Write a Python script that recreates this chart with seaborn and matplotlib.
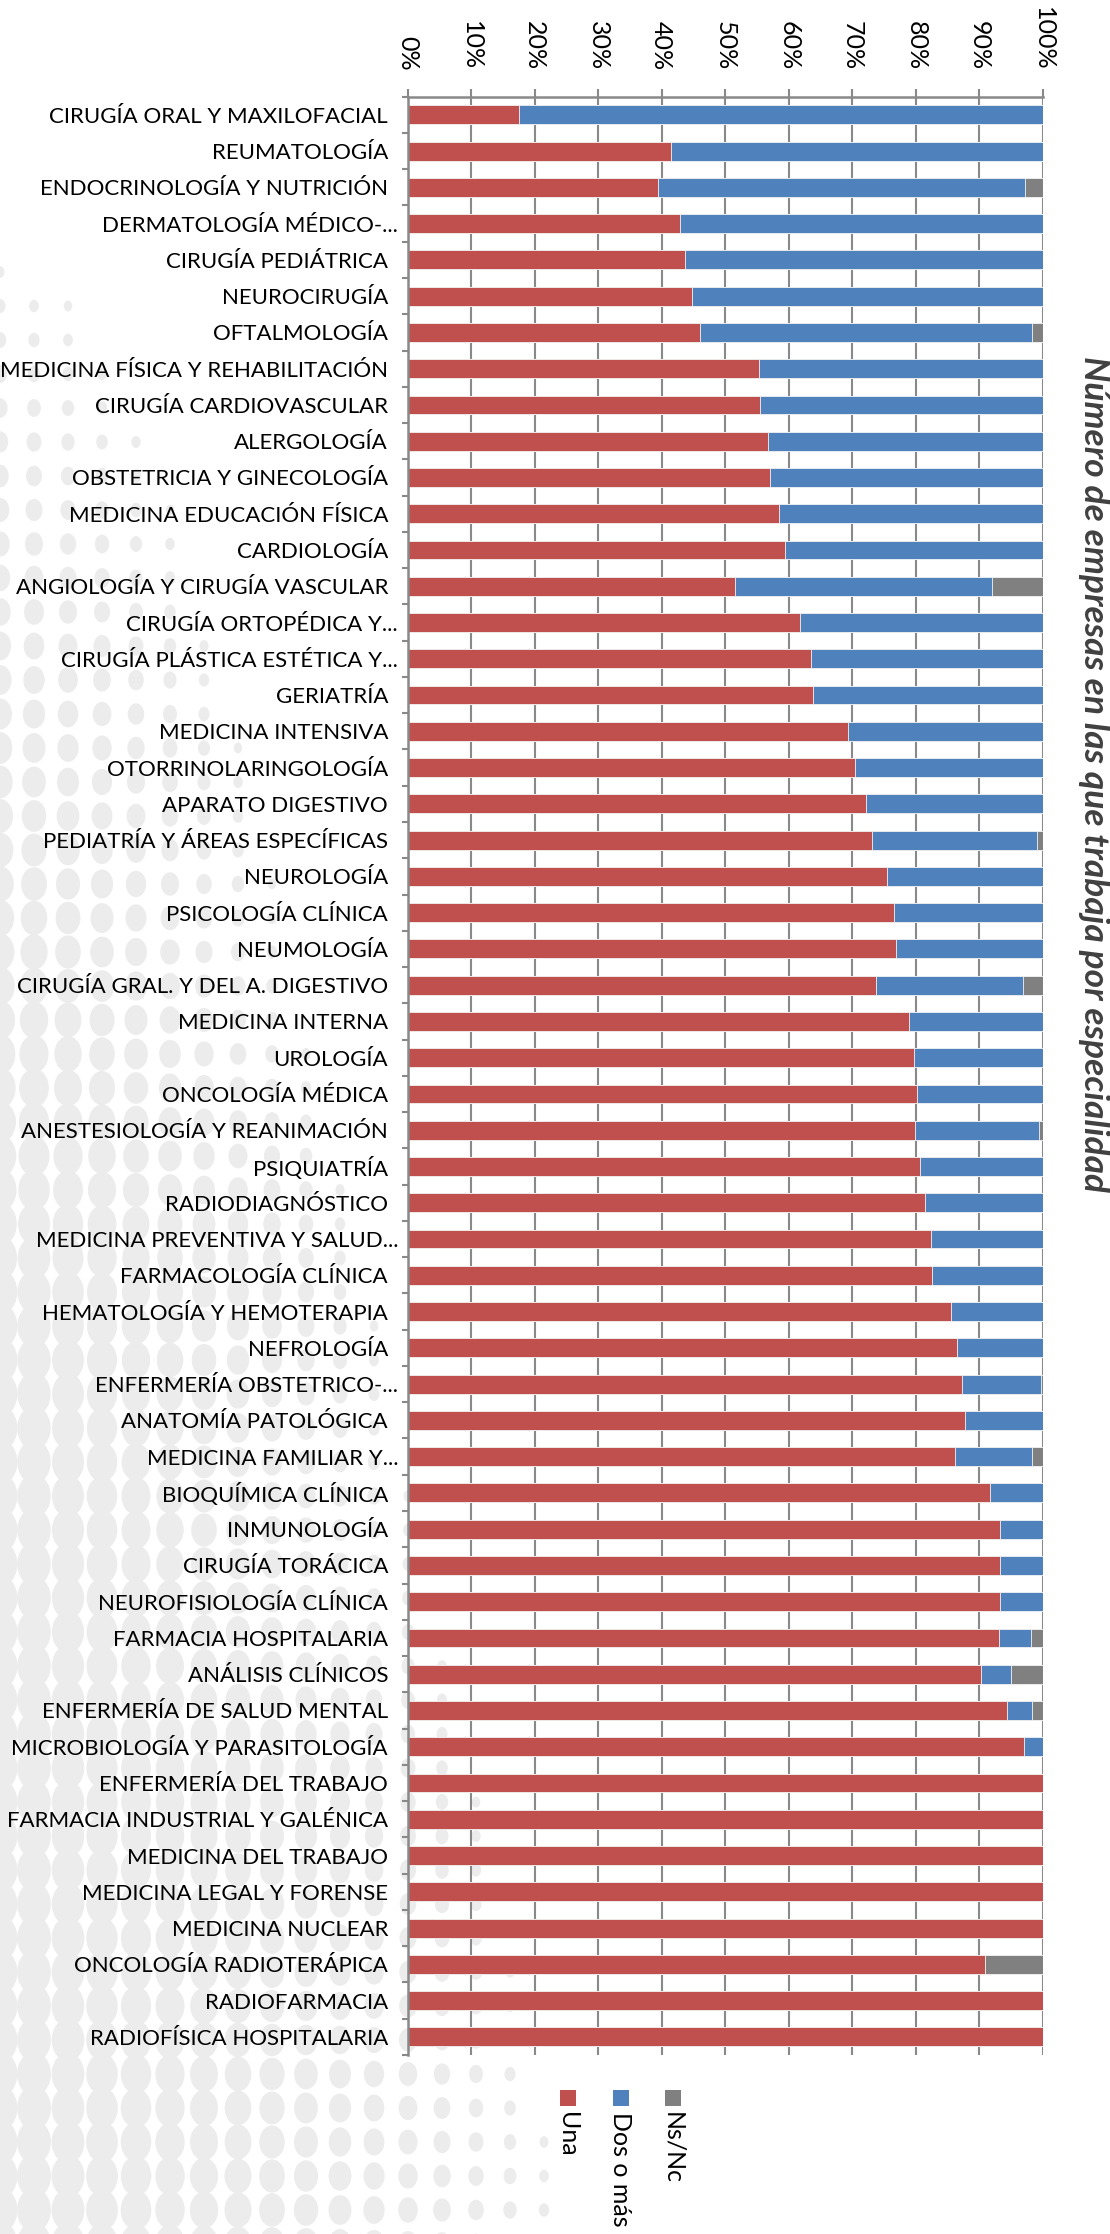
import numpy as np
import pandas as pd
import matplotlib
matplotlib.use("Agg")
import matplotlib.pyplot as plt
import matplotlib.transforms as mtransforms
from matplotlib.collections import EllipseCollection
from matplotlib.patches import Rectangle
import seaborn as sns

# Specialties, top to bottom
especialidades = [
    "CIRUGÍA ORAL Y MAXILOFACIAL", "REUMATOLOGÍA", "ENDOCRINOLOGÍA Y NUTRICIÓN",
    "DERMATOLOGÍA MÉDICO-...", "CIRUGÍA PEDIÁTRICA", "NEUROCIRUGÍA", "OFTALMOLOGÍA",
    "MEDICINA FÍSICA Y REHABILITACIÓN", "CIRUGÍA CARDIOVASCULAR", "ALERGOLOGÍA",
    "OBSTETRICIA Y GINECOLOGÍA", "MEDICINA EDUCACIÓN FÍSICA", "CARDIOLOGÍA",
    "ANGIOLOGÍA Y CIRUGÍA VASCULAR", "CIRUGÍA ORTOPÉDICA Y...",
    "CIRUGÍA PLÁSTICA ESTÉTICA Y...", "GERIATRÍA", "MEDICINA INTENSIVA",
    "OTORRINOLARINGOLOGÍA", "APARATO DIGESTIVO", "PEDIATRÍA Y ÁREAS ESPECÍFICAS",
    "NEUROLOGÍA", "PSICOLOGÍA CLÍNICA", "NEUMOLOGÍA", "CIRUGÍA GRAL. Y DEL A. DIGESTIVO",
    "MEDICINA INTERNA", "UROLOGÍA", "ONCOLOGÍA MÉDICA", "ANESTESIOLOGÍA Y REANIMACIÓN",
    "PSIQUIATRÍA", "RADIODIAGNÓSTICO", "MEDICINA PREVENTIVA Y SALUD...",
    "FARMACOLOGÍA CLÍNICA", "HEMATOLOGÍA Y HEMOTERAPIA", "NEFROLOGÍA",
    "ENFERMERÍA OBSTETRICO-...", "ANATOMÍA PATOLÓGICA", "MEDICINA FAMILIAR Y...",
    "BIOQUÍMICA CLÍNICA", "INMUNOLOGÍA", "CIRUGÍA TORÁCICA", "NEUROFISIOLOGÍA CLÍNICA",
    "FARMACIA HOSPITALARIA", "ANÁLISIS CLÍNICOS", "ENFERMERÍA DE SALUD MENTAL",
    "MICROBIOLOGÍA Y PARASITOLOGÍA", "ENFERMERÍA DEL TRABAJO",
    "FARMACIA INDUSTRIAL Y GALÉNICA", "MEDICINA DEL TRABAJO", "MEDICINA LEGAL Y FORENSE",
    "MEDICINA NUCLEAR", "ONCOLOGÍA RADIOTERÁPICA", "RADIOFARMACIA",
    "RADIOFÍSICA HOSPITALARIA",
]

# Share of respondents (%) by number of companies they work for
una = [17.6, 41.5, 39.4, 42.9, 43.6, 44.7, 46.1, 55.3, 55.5, 56.7,
       57.0, 58.4, 59.4, 51.5, 61.8, 63.5, 63.8, 69.3, 70.4, 72.1,
       73.1, 75.5, 76.5, 76.8, 73.8, 78.9, 79.7, 80.2, 79.9, 80.6,
       81.4, 82.4, 82.6, 85.5, 86.4, 87.2, 87.8, 86.1, 91.6, 93.3,
       93.3, 93.3, 93.0, 90.2, 94.3, 97.0, 100.0, 100.0, 100.0, 100.0,
       100.0, 90.9, 100.0, 100.0]
dos_o_mas = [82.4, 58.5, 57.7, 57.1, 56.4, 55.3, 52.2, 44.7, 44.5, 43.3,
             43.0, 41.6, 40.6, 40.4, 38.2, 36.5, 36.2, 30.7, 29.6, 27.9,
             26.0, 24.5, 23.5, 23.2, 23.0, 21.1, 20.3, 19.8, 19.5, 19.4,
             18.6, 17.6, 17.4, 14.5, 13.6, 12.5, 12.2, 12.2, 8.4, 6.7,
             6.7, 6.7, 5.1, 4.8, 4.0, 3.0, 0.0, 0.0, 0.0, 0.0,
             0.0, 0.0, 0.0, 0.0]
ns_nc = [0.0, 0.0, 2.9, 0.0, 0.0, 0.0, 1.7, 0.0, 0.0, 0.0,
         0.0, 0.0, 0.0, 8.1, 0.0, 0.0, 0.0, 0.0, 0.0, 0.0,
         0.9, 0.0, 0.0, 0.0, 3.2, 0.0, 0.0, 0.0, 0.6, 0.0,
         0.0, 0.0, 0.0, 0.0, 0.0, 0.3, 0.0, 1.7, 0.0, 0.0,
         0.0, 0.0, 1.9, 5.0, 1.7, 0.0, 0.0, 0.0, 0.0, 0.0,
         0.0, 9.1, 0.0, 0.0]

series_names = ["Una", "Dos o más", "Ns/Nc"]
series_colors = ["#C0504D", "#4F81BD", "#808080"]
x_ticks = list(range(0, 101, 10))
x_ticklabels = [f"{v}%" for v in x_ticks]
titulo = "Número de empresas en las que trabaja por especialidad"

df = pd.DataFrame({"especialidad": especialidades, "Una": una,
                   "Dos o más": dos_o_mas, "Ns/Nc": ns_nc})
df["c1"] = df["Una"]
df["c2"] = df["Una"] + df["Dos o más"]
df["c3"] = df["c2"] + df["Ns/Nc"]

sns.set_theme(style="white")
plt.rcParams["font.family"] = ["Lato", "DejaVu Sans"]

W, H = 1110, 2234
fig = plt.figure(figsize=(W / 100, H / 100), dpi=100)
fig.patch.set_facecolor("white")

# Decorative halftone background
bg = fig.add_axes([0, 0, 1, 1], zorder=-1)
bg.set_xlim(0, W)
bg.set_ylim(H, 0)
bg.axis("off")
step = 34.0
gx, gy = np.meshgrid(np.arange(0, 800, step), np.arange(0, H + step, step))
gx = gx.ravel()
gy = gy.ravel()
reach = 100 + 0.225 * gy
inten = 0.9 * np.clip(1 - gx / reach, 0, 1) * np.clip((gy - 200) / 1100, 0.0, 1)
keep = inten > 0.05
d = step * 1.08 * np.sqrt(inten[keep])
ec = EllipseCollection(d, d * 1.3, np.zeros_like(d), units="xy",
                       offsets=np.column_stack([gx[keep], gy[keep]]),
                       offset_transform=bg.transData,
                       facecolors="#ececec", edgecolors="none")
bg.add_collection(ec)

ax = fig.add_axes([407.5 / W, 1 - 2055 / H, (1043 - 407.5) / W, (2055 - 96.7) / H])
ax.set_facecolor("none")

# Stacked bars: draw cumulative totals back to front
for col, color in zip(["c3", "c2", "c1"], series_colors[::-1]):
    sns.barplot(data=df, x=col, y="especialidad", orient="h", color=color,
                saturation=1, width=0.52, edgecolor="#f4f4f4", linewidth=0.6,
                ax=ax, errorbar=None)

grid_c = "#898989"
ax.set_xlim(0, 100)
ax.set_ylim(len(especialidades) - 0.5, -0.5)
ax.set_axisbelow(True)
ax.xaxis.grid(True, color=grid_c, linewidth=1.5)
ax.yaxis.grid(False)
ax.set_xlabel("")
ax.set_ylabel("")

ax.xaxis.tick_top()
ax.set_xticks(x_ticks)
ax.set_xticklabels(x_ticklabels, rotation=-90, ha="center", va="bottom",
                   fontsize=18, color="black")
ax.tick_params(axis="x", which="major", direction="out", length=6, width=1.5,
               color=grid_c, pad=13, top=True, bottom=False)

ax.set_yticks(range(len(especialidades)))
ax.set_yticklabels(especialidades, fontsize=16, color="black")
ax.set_yticks(np.arange(-0.5, len(especialidades), 1), minor=True)
ax.tick_params(axis="y", which="major", length=0, pad=14)
ax.tick_params(axis="y", which="minor", direction="out", length=4.5, width=1.5,
               color=grid_c, left=True)

# Truncated labels sit flush against the axis
shift = mtransforms.ScaledTranslation(10 / 100, 0, fig.dpi_scale_trans)
for lab in ax.get_yticklabels():
    if lab.get_text().endswith("..."):
        lab.set_transform(lab.get_transform() + shift)

for s in ["right", "bottom"]:
    ax.spines[s].set_visible(False)
for s in ["top", "left"]:
    ax.spines[s].set_visible(True)
    ax.spines[s].set_color(grid_c)
    ax.spines[s].set_linewidth(1.8)

fig.text(1094 / W, 1 - 356 / H, titulo, rotation=-90, ha="center", va="top",
         fontsize=25.5, fontweight="bold", fontstyle="italic", color="#404040")

# Legend: colour squares with vertical captions
for name, color, cx in zip(series_names, series_colors, [568, 621, 673]):
    bg.add_patch(Rectangle((cx - 8, 2090), 16, 16, facecolor=color, edgecolor="none"))
    fig.text(cx / W, 1 - 2112 / H, name, rotation=-90, ha="center", va="top",
             fontsize=18, color="black")

fig.savefig("out.png", dpi=100, facecolor="white")
